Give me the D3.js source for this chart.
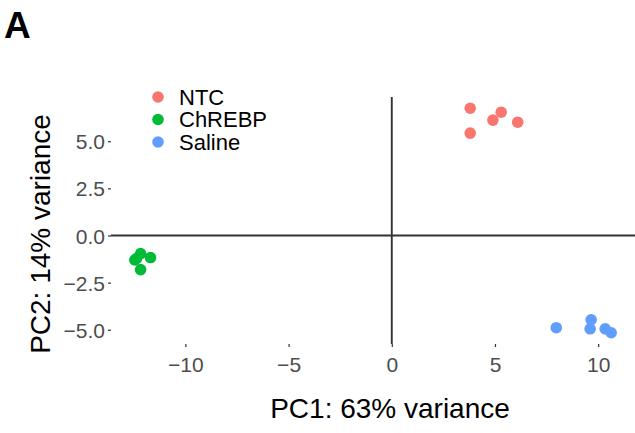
<!DOCTYPE html>
<html><head><meta charset="utf-8">
<script src="https://cdn.jsdelivr.net/npm/d3@7"></script>
<style>body{margin:0;background:#fff}svg{display:block}</style>
</head><body>
<script>
const groups = ["NTC", "ChREBP", "Saline"];
const colors = ["#F8766D", "#00BA38", "#619CFF"];
const ntcPC1 = [3.8, 3.8, 5.3, 4.9, 6.1];
const ntcPC2 = [6.75, 5.43, 6.54, 6.12, 6.01];
const chrebpPC1 = [-12.37, -12.17, -11.69, -12.17, -12.45];
const chrebpPC2 = [-1.22, -0.96, -1.17, -1.81, -1.3];
const salinePC1 = [7.97, 9.66, 9.61, 10.34, 10.63];
const salinePC2 = [-4.89, -4.47, -4.95, -4.95, -5.16];
const xTicks = [-10, -5, 0, 5, 10];
const yTicks = [-5, -2.5, 0, 2.5, 5];

(function () {
const W = 635, H = 433;
const FF = "Liberation Sans, Arial, sans-serif";
const svg = d3.select("body").append("svg").attr("width", W).attr("height", H);
const pts = [];
[[ntcPC1, ntcPC2], [chrebpPC1, chrebpPC2], [salinePC1, salinePC2]].forEach((s, g) => {
  s[0].forEach((v, i) => pts.push({x: v, y: s[1][i], g}));
});
const xe = d3.extent(pts, d => d.x), ye = d3.extent(pts, d => d.y);
const xp = (xe[1] - xe[0]) * 0.05, yp = (ye[1] - ye[0]) * 0.05;
const pL = 111, pR = 635, pT = 97, pB = 344;
const x = d3.scaleLinear().domain([xe[0] - xp, xe[1] + xp]).range([pL, pR]);
const y = d3.scaleLinear().domain([ye[0] - yp, ye[1] + yp]).range([pB, pT]);

svg.append("line").attr("x1", pL).attr("x2", pR).attr("y1", y(0)).attr("y2", y(0))
  .attr("stroke", "#333").attr("stroke-width", 1.9);
svg.append("line").attr("x1", x(0)).attr("x2", x(0)).attr("y1", pT).attr("y2", pB)
  .attr("stroke", "#333").attr("stroke-width", 1.9);

const fmtY = d => d3.format(".1f")(d).replace("-", "\u2212");
const fmtX = d => String(d).replace("-", "\u2212");
const xAxis = svg.append("g").attr("transform", `translate(0,${pB})`)
  .call(d3.axisBottom(x).tickValues(xTicks).tickFormat(fmtX).tickSize(3));
const yAxis = svg.append("g").attr("transform", `translate(${pL},0)`)
  .call(d3.axisLeft(y).tickValues(yTicks).tickFormat(fmtY).tickSize(3));
[xAxis, yAxis].forEach(a => {
  a.select(".domain").remove();
  a.selectAll(".tick line").attr("stroke", "#333").attr("stroke-width", 1.2);
  a.selectAll(".tick text").attr("fill", "#4D4D4D").style("font-family", FF).style("font-size", "21px");
});
xAxis.selectAll(".tick text").attr("y", 28).attr("dy", 0);
yAxis.selectAll(".tick text").attr("x", -6).attr("dy", "0.36em");

svg.append("g").selectAll("circle").data(pts).join("circle")
  .attr("cx", d => x(d.x)).attr("cy", d => y(d.y)).attr("r", 5.8)
  .attr("fill", d => colors[d.g]);

const lg = svg.append("g");
groups.forEach((g, i) => {
  const yy = 97 + i * 22.5;
  lg.append("circle").attr("cx", 158).attr("cy", yy).attr("r", 5.8).attr("fill", colors[i]);
  lg.append("text").attr("x", 179).attr("y", yy).attr("dy", "0.36em").text(g)
    .style("font-family", FF).style("font-size", "22px").attr("fill", "#000");
});

svg.append("text").attr("x", 390).attr("y", 418).attr("text-anchor", "middle")
  .text("PC1: 63% variance").style("font-family", FF).style("font-size", "28px");
svg.append("text").attr("transform", `translate(50,234) rotate(-90)`).attr("text-anchor", "middle")
  .text("PC2: 14% variance").style("font-family", FF).style("font-size", "28px");
svg.append("text").attr("x", 4).attr("y", 38).text("A")
  .style("font-family", FF).style("font-size", "37px").style("font-weight", "bold");
})();
</script>
</body></html>
